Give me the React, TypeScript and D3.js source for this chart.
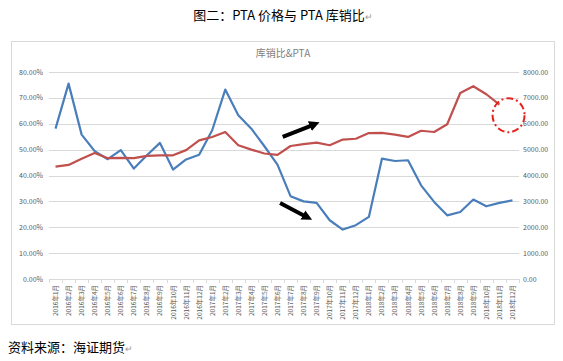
import { useEffect, useRef } from "react";
import { select, scaleBand, scaleLinear, line, format } from "d3";

// 2016年1月 .. 2018年12月
const months: string[] = [];
for (const y of [2016, 2017, 2018]) for (let m = 1; m <= 12; m++) months.push(y + "年" + m + "月");

// 库销比 (left axis)
const ratio = [
  58.1, 75.5, 55.8, 49.4, 46.3, 49.8, 42.7, 47.8, 52.6, 42.3, 46.2, 48.0,
  57.5, 73.2, 63.3, 58.1, 51.3, 44.2, 32.0, 30.0, 29.4, 22.7, 19.1, 20.8,
  24.0, 46.5, 45.6, 45.9, 36.2, 29.8, 24.6, 25.9, 30.7, 28.1, 29.4, 30.4,
];

// PTA price (right axis), no value for 2018年12月
const pta = [
  4340, 4410, 4650, 4870, 4670, 4680, 4670, 4760, 4780, 4780, 4980, 5360,
  5490, 5680, 5170, 5000, 4850, 4800, 5140, 5210, 5270, 5170, 5390, 5420,
  5640, 5650, 5580, 5490, 5730, 5680, 5980, 7190, 7450, 7140, 6740,
];

const leftTicks = [0, 0.1, 0.2, 0.3, 0.4, 0.5, 0.6, 0.7, 0.8];
const rightTicks = [0, 1000, 2000, 3000, 4000, 5000, 6000, 7000, 8000];

const App = () => {
  const ref = useRef<SVGSVGElement>(null);

  useEffect(() => {
    const svg = select(ref.current);
    svg.selectAll("*").remove();

    const font = "'Noto Sans CJK SC', 'Noto Sans', sans-serif";
    const left = 49, right = 519, top = 72, bottom = 279;

    const x = scaleBand().domain(months).range([left, right]);
    const cx = (i: number) => x(months[i])! + x.bandwidth() / 2;
    const xi = scaleLinear().domain([0, 35]).range([cx(0), cx(35)]);
    const yL = scaleLinear().domain([0, 0.8]).range([bottom, top]);
    const yR = scaleLinear().domain([0, 8000]).range([bottom, top]);

    // page title
    svg.append("text")
      .attr("x", 283).attr("y", 20)
      .attr("text-anchor", "middle")
      .attr("font-family", font).attr("font-size", 13)
      .attr("fill", "#000")
      .text("图二：PTA 价格与 PTA 库销比")
      .append("tspan").attr("fill", "#999").attr("font-size", 9).text("↵");

    // chart frame
    svg.append("rect")
      .attr("x", 11.5).attr("y", 41.5).attr("width", 543).attr("height", 283)
      .attr("fill", "#fff").attr("stroke", "#d9d9d9");

    svg.append("text")
      .attr("x", 283).attr("y", 57)
      .attr("text-anchor", "middle")
      .attr("font-family", font).attr("font-size", 10)
      .attr("fill", "#7f7f7f")
      .text("库销比&PTA");

    // grid
    svg.append("g").selectAll("line").data(leftTicks.slice(1)).join("line")
      .attr("x1", left).attr("x2", right)
      .attr("y1", d => Math.round(yL(d)) + 0.5).attr("y2", d => Math.round(yL(d)) + 0.5)
      .attr("stroke", "#d9d9d9");

    // x axis line + ticks
    svg.append("line")
      .attr("x1", left).attr("x2", right)
      .attr("y1", bottom + 0.5).attr("y2", bottom + 0.5)
      .attr("stroke", "#d9d9d9");
    svg.append("g").selectAll("line").data(months.concat([""])).join("line")
      .attr("x1", (d, i) => Math.round(left + i * x.bandwidth()) + 0.5)
      .attr("x2", (d, i) => Math.round(left + i * x.bandwidth()) + 0.5)
      .attr("y1", bottom).attr("y2", bottom + 4)
      .attr("stroke", "#d9d9d9");

    // left labels
    svg.append("g").selectAll("text").data(leftTicks).join("text")
      .attr("x", 43).attr("y", d => yL(d) + 2.5)
      .attr("text-anchor", "end")
      .attr("font-family", font).attr("font-size", 7)
      .attr("fill", "#595959")
      .text(d => format(".2%")(d));

    // right labels
    svg.append("g").selectAll("text").data(rightTicks).join("text")
      .attr("x", 523).attr("y", d => yR(d) + 2.5)
      .attr("font-family", font).attr("font-size", 7)
      .attr("fill", "#595959")
      .text(d => format(".2f")(d));

    // category labels, rotated
    svg.append("g").selectAll("text").data(months).join("text")
      .attr("transform", (d, i) => "translate(" + (cx(i) + 2.5) + "," + (bottom + 6) + ") rotate(-90)")
      .attr("text-anchor", "end")
      .attr("font-family", font).attr("font-size", 6.5)
      .attr("fill", "#595959")
      .text(d => d);

    const ratioLine = line<number>().x((d, i) => cx(i)).y(d => yL(d / 100));
    const ptaLine = line<number>().x((d, i) => cx(i)).y(d => yR(d));

    svg.append("path")
      .attr("d", ratioLine(ratio))
      .attr("fill", "none").attr("stroke", "#4a7ebb")
      .attr("stroke-width", 2.2).attr("stroke-linejoin", "round");

    svg.append("path")
      .attr("d", ptaLine(pta))
      .attr("fill", "none").attr("stroke", "#c0504d")
      .attr("stroke-width", 2.2).attr("stroke-linejoin", "round");

    // arrows
    const defs = svg.append("defs");
    defs.append("marker")
      .attr("id", "head").attr("viewBox", "0 0 10 10")
      .attr("refX", 5).attr("refY", 5)
      .attr("markerWidth", 2.6).attr("markerHeight", 2.6)
      .attr("orient", "auto")
      .append("path").attr("d", "M0,0 L10,5 L0,10 z").attr("fill", "#000");

    const arrows = [
      [xi(17.4), yR(5490), xi(19.85), yR(5980)],
      [xi(17.2), yL(0.294), xi(19.3), yL(0.238)],
    ];
    svg.append("g").selectAll("line").data(arrows).join("line")
      .attr("x1", d => d[0]).attr("y1", d => d[1])
      .attr("x2", d => d[2]).attr("y2", d => d[3])
      .attr("stroke", "#000").attr("stroke-width", 4)
      .attr("marker-end", "url(#head)");

    // dashed circle
    svg.append("ellipse")
      .attr("cx", xi(34.7)).attr("cy", yR(6330))
      .attr("rx", 16).attr("ry", 17)
      .attr("fill", "none").attr("stroke", "#e8201c")
      .attr("stroke-width", 2)
      .attr("stroke-dasharray", "7,3,2,3");

    // source note
    svg.append("text")
      .attr("x", 8).attr("y", 352)
      .attr("font-family", font).attr("font-size", 13)
      .attr("fill", "#000")
      .text("资料来源：海证期货")
      .append("tspan").attr("fill", "#999").attr("font-size", 9).text("↵");
  });

  return (
    <svg ref={ref} width={563} height={361}
      style={{ position: "absolute", left: 0, top: 0, background: "#fff" }} />
  );
};

export default App;
